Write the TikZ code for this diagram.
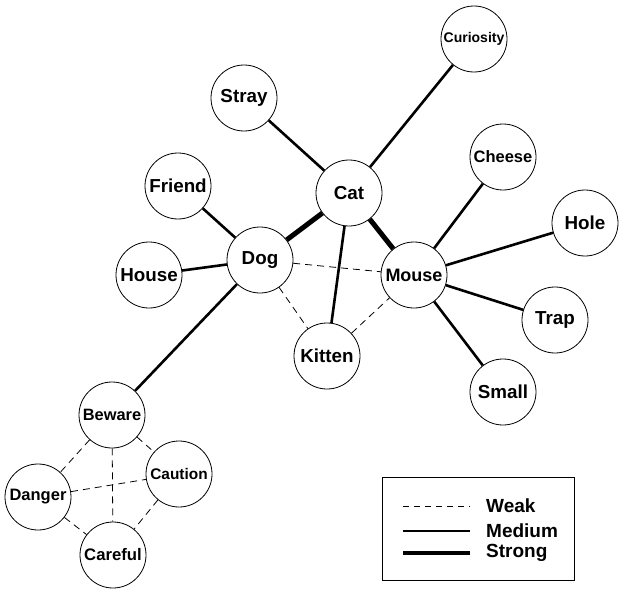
\documentclass[tikz,border=0pt]{standalone}
\usepackage{fontspec}
\setmainfont{Liberation Sans}
\usepackage{tikz}
\usetikzlibrary{positioning, calc}

\tikzset{
  concept/.style={circle, draw, line width=0.8pt, fill=white, minimum size=66pt,
    inner sep=0pt, font=\bfseries\fontsize{18.8}{20}\selectfont},
  shrunk/.style={font=\bfseries\fontsize{#1}{#1}\selectfont},
  weaklink/.style={line width=0.8pt, dash pattern=on 7pt off 5pt},
  mediumlink/.style={line width=2.6pt},
  stronglink/.style={line width=5pt},
}

\begin{document}
\begin{tikzpicture}[x=1pt, y=-1pt]
  \useasboundingbox (0,0) rectangle (624,594);
  % Core
  \node[concept] (cat)    at (349,193) {Cat};
  \node[concept] (dog)    at (260,260) {Dog};
  \node[concept, shrunk=18] (mouse) at (414,275) {Mouse};
  \node[concept] (kitten) at (327,356) {Kitten};
  % Around the cat
  \node[concept] (stray)  at (244,98) {Stray};
  \node[concept, shrunk=14] (curiosity) at (474,39) {Curiosity};
  % Around the dog
  \node[concept] (friend) at (178,186) {Friend};
  \node[concept] (house)  at (149,275) {House};
  % Around the mouse
  \node[concept, shrunk=16.5] (cheese) at (503,157) {Cheese};
  \node[concept] (hole)   at (585,223) {Hole};
  \node[concept] (trap)   at (555,320) {Trap};
  \node[concept] (small)  at (503,392) {Small};
  % Warning cluster
  \node[concept, shrunk=16.4] (beware)  at (112,415) {Beware};
  \node[concept, shrunk=15.4] (caution) at (179,474) {Caution};
  \node[concept, shrunk=16.5] (danger)  at (38,497)  {Danger};
  \node[concept, shrunk=16.7] (careful) at (113,555) {Careful};

  % Links
  \draw[stronglink] (cat) -- (dog);
  \draw[stronglink] (cat) -- (mouse);
  \draw[mediumlink] (cat) -- (stray);
  \draw[mediumlink] (cat) -- (curiosity);
  \draw[mediumlink] (cat) -- (kitten);
  \draw[mediumlink] (dog) -- (friend);
  \draw[mediumlink] (dog) -- (house);
  \draw[mediumlink] (dog) -- (beware);
  \draw[mediumlink] (mouse) -- (cheese);
  \draw[mediumlink] (mouse) -- (hole);
  \draw[mediumlink] (mouse) -- (trap);
  \draw[mediumlink] (mouse) -- (small);
  \draw[weaklink] (dog) -- (mouse);
  \draw[weaklink] (dog) -- (kitten);
  \draw[weaklink] (kitten) -- (mouse);
  \draw[weaklink] (beware) -- (caution);
  \draw[weaklink] (beware) -- (danger);
  \draw[weaklink] (beware) -- (careful);
  \draw[weaklink] (danger) -- (caution);
  \draw[weaklink] (danger) -- (careful);
  \draw[weaklink] (caution) -- (careful);

  % Legend
  \draw[line width=0.8pt] (382,477) rectangle (574,580);
  \coordinate (wa) at (403,506); \coordinate (wb) at (470,506);
  \coordinate (ma) at (403,531); \coordinate (mb) at (470,531);
  \coordinate (sa) at (403,553); \coordinate (sb) at (470,553);
  \draw[line width=0.6pt, dash pattern=on 6pt off 5pt] (wa) -- (wb);
  \draw[line width=2.2pt] (ma) -- (mb);
  \draw[line width=4.5pt] (sa) -- (sb);
  \node[anchor=west, inner sep=0pt, font=\bfseries\fontsize{19}{20}\selectfont] (weak)   at (486,506) {Weak};
  \node[anchor=west, inner sep=0pt, font=\bfseries\fontsize{19}{20}\selectfont] (medium) at (486,531) {Medium};
  \node[anchor=west, inner sep=0pt, font=\bfseries\fontsize{19}{20}\selectfont] (strong) at (486,553) {Strong};
\end{tikzpicture}
\end{document}
